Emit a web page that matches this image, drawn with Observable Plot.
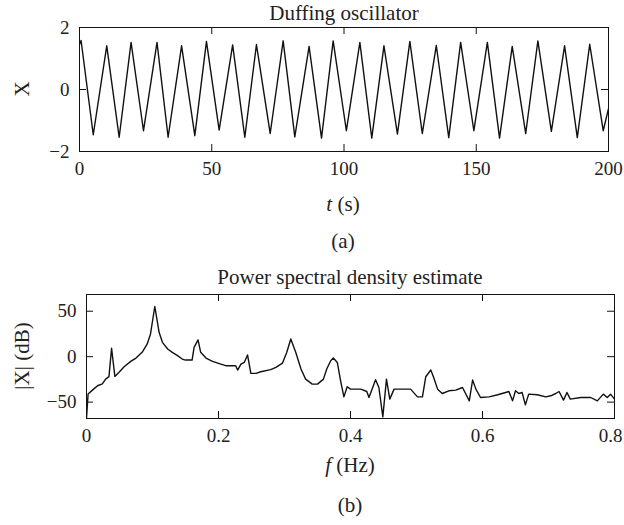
<!DOCTYPE html>
<html><head><meta charset="utf-8">
<script src="https://cdn.jsdelivr.net/npm/d3@7"></script>
<script src="https://cdn.jsdelivr.net/npm/@observablehq/plot@0.6"></script>
<style>
body{margin:0;background:#fff;}
#wrap{position:relative;width:624px;height:525px;font-family:"Liberation Serif",serif;color:#222;overflow:hidden;}
.lbl{position:absolute;font-size:21px;line-height:1;white-space:nowrap;transform:translate(-50%,-50%);}
.rot{transform:translate(-50%,-50%) rotate(-90deg);}
.pl{position:absolute;left:0;}
</style></head><body><div id="wrap"></div>
<script>
// Panel (a): Duffing oscillator time series (peaks and troughs)
const timeS = [0, 0.6, 5.2, 10.3, 15.0, 19.5, 24.2, 29.3, 33.5, 38.6, 43.6, 48.0,
  52.8, 57.9, 62.5, 66.9, 72.1, 77.0, 81.4, 86.8, 91.5, 95.9,
  100.9, 106.0, 110.5, 115.1, 120.2, 124.9, 129.6, 134.9, 139.6, 144.1,
  149.1, 154.2, 158.8, 163.6, 168.7, 173.3, 178.4, 183.4, 188.2, 192.9,
  198.0, 200];
const xValue = [1.45, 1.58, -1.46, 1.41, -1.54, 1.52, -1.33, 1.52, -1.54, 1.41, -1.49, 1.55,
  -1.31, 1.44, -1.54, 1.45, -1.42, 1.57, -1.53, 1.39, -1.57, 1.57,
  -1.33, 1.52, -1.57, 1.41, -1.44, 1.55, -1.42, 1.42, -1.55, 1.52,
  -1.33, 1.52, -1.57, 1.39, -1.42, 1.57, -1.35, 1.41, -1.55, 1.46,
  -1.33, -0.62];
const timeTicks = [0, 50, 100, 150, 200];
const xTicks = [-2, 0, 2];

// Panel (b): power spectral density estimate
const freqHz = [0, 0.0024, 0.009, 0.0167, 0.024, 0.029, 0.034, 0.038, 0.043, 0.049,
  0.057, 0.067, 0.075, 0.085, 0.092, 0.097, 0.1035, 0.110, 0.115, 0.123,
  0.130, 0.138, 0.145, 0.150, 0.160, 0.163, 0.169, 0.173, 0.181, 0.191,
  0.2035, 0.211, 0.226, 0.229, 0.234, 0.239, 0.244, 0.249, 0.257, 0.264,
  0.279, 0.287, 0.297, 0.3035, 0.3095, 0.317, 0.325, 0.332, 0.342, 0.350,
  0.359, 0.364, 0.370, 0.374, 0.380, 0.385, 0.390, 0.395, 0.400, 0.4155,
  0.4247, 0.428, 0.438, 0.443, 0.449, 0.4545, 0.4595, 0.466, 0.491, 0.5015,
  0.509, 0.514, 0.5217, 0.526, 0.532, 0.539, 0.549, 0.5595, 0.5697, 0.580,
  0.585, 0.590, 0.597, 0.610, 0.623, 0.635, 0.640, 0.6455, 0.650, 0.655,
  0.660, 0.665, 0.670, 0.683, 0.696, 0.7035, 0.711, 0.716, 0.7227, 0.728,
  0.733, 0.749, 0.764, 0.774, 0.783, 0.789, 0.794, 0.8];
const psdDb = [-68, -41, -36.8, -32, -30, -24.7, -22, 9.2, -21.7, -17.3,
  -11, -5.2, -1.5, 5.5, 14, 25, 55.2, 26.8, 15.8, 8.5,
  4.7, 1.1, -2.6, -3.7, -3.7, 10.3, 18.4, 4.8, -1.5, -5.2,
  -8.1, -9.9, -9.9, -14.7, -8.1, -6.3, 1.9, -18.4, -18.4, -16.6,
  -14.3, -11.8, -7, 4.8, 19.5, 4.8, -13.6, -24.7, -30.2, -30.2,
  -24.7, -13.6, -4.4, -1.5, -6.3, -26.5, -44.2, -33.1, -35.7, -35.7,
  -38.3, -44.9, -25.4, -33.9, -66.2, -24.7, -46.7, -35.7, -35.7, -44.2,
  -44.2, -22.1, -14.7, -22.8, -35.7, -40.5, -37.5, -36.8, -33.9, -48.6,
  -25.7, -35.7, -44.9, -44.2, -41.9, -39.4, -38.3, -48.6, -37.5, -40.5,
  -39.4, -53, -41.2, -41.9, -44.2, -43, -40.5, -38.3, -47.8, -39.4,
  -46.7, -44.9, -44.9, -48.6, -41.2, -44.9, -41.2, -46.7];
const freqTicks = [0, 0.2, 0.4, 0.6, 0.8];
const dbTicks = [-50, 0, 50];

const ink = "#111";
const textStyle = {fontFamily: "'Liberation Serif', serif", fontSize: "19px", color: "#222", background: "transparent", overflow: "visible"};
const minus = d => d < 0 ? "\u2212" + Math.abs(d) : String(d);

function panel({data, xKey, yKey, xDomain, yDomain, xt, yt, width, height, mt, mb, ml, mr, lastShift}) {
  const fw = width - ml - mr, fh = height - mt - mb, tl = 7;
  const inner = xt.slice(0, -1), last = xt.slice(-1);
  return Plot.plot({
    width, height, marginTop: mt, marginBottom: mb, marginLeft: ml, marginRight: mr,
    style: textStyle,
    x: {domain: xDomain, label: null, axis: null},
    y: {domain: yDomain, ticks: yt, tickSize: 0, tickPadding: 10, label: null, tickFormat: minus},
    marks: [
      Plot.axisX(inner, {tickSize: 0, tickPadding: 10, tickFormat: minus, label: null}),
      Plot.axisX(last, {tickSize: 0, tickPadding: 10, tickFormat: minus, label: null, dx: lastShift}),
      Plot.tickX(xt, {x: d => d, insetTop: fh - tl, stroke: ink}),
      Plot.tickX(xt, {x: d => d, insetBottom: fh - tl, stroke: ink}),
      Plot.tickY(yt, {y: d => d, insetRight: fw - tl, stroke: ink}),
      Plot.tickY(yt, {y: d => d, insetLeft: fw - tl, stroke: ink}),
      Plot.line(data, {x: xKey, y: yKey, stroke: ink, strokeWidth: 1.4, clip: true}),
      Plot.frame({stroke: ink, strokeWidth: 1})
    ]
  });
}

const tsData = timeS.map((t, i) => ({t, v: xValue[i]}));
const psdData = freqHz.map((f, i) => ({f, db: psdDb[i]}));

const wrap = document.getElementById("wrap");

const p1 = panel({data: tsData, xKey: "t", yKey: "v", xDomain: [0, 200], yDomain: [-2, 2],
  xt: timeTicks, yt: xTicks, width: 624, height: 190, mt: 27, mb: 39, ml: 79, mr: 16, lastShift: 0});
p1.classList.add("pl"); p1.style.top = "0px";
wrap.appendChild(p1);

const p2 = panel({data: psdData, xKey: "f", yKey: "db", xDomain: [0, 0.8], yDomain: [-68, 68.4],
  xt: freqTicks, yt: dbTicks, width: 624, height: 190, mt: 34, mb: 32, ml: 86, mr: 10, lastShift: -4});
p2.classList.add("pl"); p2.style.top = "260px";
wrap.appendChild(p2);

const labels = [
  {html: "Duffing oscillator", x: 344, y: 13},
  {html: "X", x: 22, y: 89, rot: true},
  {html: "<i>t</i> (s)", x: 343, y: 204},
  {html: "(a)", x: 343, y: 241},
  {html: "Power spectral density estimate", x: 350, y: 277},
  {html: "|X| (dB)", x: 22, y: 356, rot: true},
  {html: "<i>f</i> (Hz)", x: 350, y: 465},
  {html: "(b)", x: 350, y: 505}
];
for (const l of labels) {
  const d = document.createElement("div");
  d.className = "lbl" + (l.rot ? " rot" : "");
  d.innerHTML = l.html;
  d.style.left = l.x + "px";
  d.style.top = l.y + "px";
  wrap.appendChild(d);
}
</script></body></html>
